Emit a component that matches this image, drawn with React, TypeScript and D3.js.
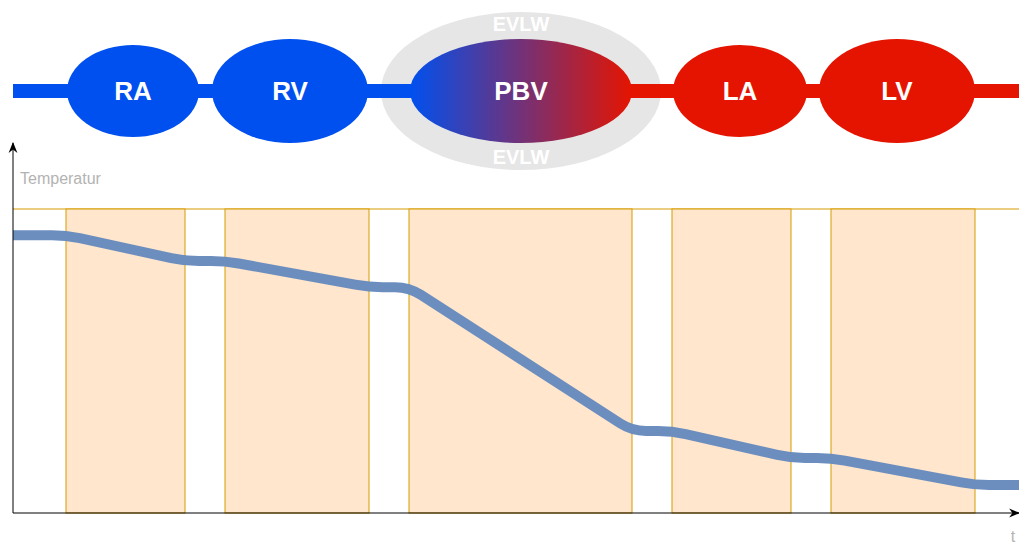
import React from "react";
import * as d3 from "d3";

// Compartments of the top diagram
const compartments = ["RA", "RV", "PBV", "LA", "LV"];
const compartmentCenters = [133, 290, 521, 740, 897];
const compartmentRx = [66, 78, 111, 67, 78];
const compartmentRy = [46, 52, 52, 46, 52];
const compartmentKind = ["venous", "venous", "mixed", "arterial", "arterial"];
const evlwLabel = "EVLW";

// Phases of the chart (time units)
const phaseStart = [53, 212, 396, 659, 818];
const phaseEnd = [172, 356, 619, 778, 962];

// Temperature curve (time, temperature)
const curveTime = [0, 53, 172, 212, 356, 396, 619, 659, 778, 818, 962, 1006];
const curveTemp = [91.4, 91.4, 82.9, 82.9, 74.3, 74.3, 27.0, 27.0, 18.1, 18.1, 9.2, 9.2];

const yLabel = "Temperatur";
const xLabel = "t";

function roundedPath(pts: [number, number][], r: number): string {
  const p = d3.path();
  p.moveTo(pts[0][0], pts[0][1]);
  for (let i = 1; i < pts.length - 1; i++) {
    const [x0, y0] = pts[i - 1];
    const [x1, y1] = pts[i];
    const [x2, y2] = pts[i + 1];
    const d1 = Math.hypot(x1 - x0, y1 - y0);
    const d2 = Math.hypot(x2 - x1, y2 - y1);
    const rr = Math.min(r, d1 / 2, d2 / 2);
    const ax = x1 - ((x1 - x0) / d1) * rr;
    const ay = y1 - ((y1 - y0) / d1) * rr;
    const bx = x1 + ((x2 - x1) / d2) * rr;
    const by = y1 + ((y2 - y1) / d2) * rr;
    p.lineTo(ax, ay);
    p.quadraticCurveTo(x1, y1, bx, by);
  }
  const last = pts[pts.length - 1];
  p.lineTo(last[0], last[1]);
  return p.toString();
}

export default function App() {
  const W = 1019;
  const H = 545;
  const x = d3.scaleLinear().domain([0, 1006]).range([13, 1019]);
  const y = d3.scaleLinear().domain([0, 100]).range([513, 209]);
  const pts: [number, number][] = curveTime.map((t, i) => [x(t), y(curveTemp[i])]);
  const line = roundedPath(pts, 14);
  const blue = "#0050ef";
  const red = "#e51400";
  const cy = 91;
  const font = "'Liberation Sans', Arial, Helvetica, sans-serif";
  const pbvL = compartmentCenters[2] - compartmentRx[2];
  const pbvR = compartmentCenters[2] + compartmentRx[2];

  return (
    <svg width={W} height={H} style={{ position: "absolute", left: 0, top: 0, background: "#fff" }}>
      <defs>
        <linearGradient id="pbv" x1="0" x2="1" y1="0" y2="0">
          <stop offset="0" stopColor={blue} />
          <stop offset="1" stopColor={red} />
        </linearGradient>
        <marker id="arr" viewBox="0 0 10 10" refX="9" refY="5" markerWidth="11" markerHeight="11" orient="auto" markerUnits="userSpaceOnUse">
          <path d="M0,1 L10,5 L0,9 L3,5 Z" fill="#000" />
        </marker>
      </defs>

      {/* EVLW halo */}
      <ellipse cx={compartmentCenters[2]} cy={cy} rx={140} ry={79} fill="#e6e6e6" />
      <text x={compartmentCenters[2]} y={31} textAnchor="middle" fontFamily={font} fontWeight="bold" fontSize={20} fill="#fff">{evlwLabel}</text>
      <text x={compartmentCenters[2]} y={164} textAnchor="middle" fontFamily={font} fontWeight="bold" fontSize={20} fill="#fff">{evlwLabel}</text>

      {/* vessel lines */}
      <line x1={13} x2={pbvL + 5} y1={cy} y2={cy} stroke={blue} strokeWidth={14} />
      <line x1={pbvR - 5} x2={W} y1={cy} y2={cy} stroke={red} strokeWidth={14} />

      {compartments.map((c, i) => (
        <g key={c}>
          <ellipse
            cx={compartmentCenters[i]}
            cy={cy}
            rx={compartmentRx[i]}
            ry={compartmentRy[i]}
            fill={compartmentKind[i] === "venous" ? blue : compartmentKind[i] === "arterial" ? red : "url(#pbv)"}
          />
          <text x={compartmentCenters[i]} y={cy + 9} textAnchor="middle" fontFamily={font} fontWeight="bold" fontSize={26} fill="#fff">{c}</text>
        </g>
      ))}

      {/* chart */}
      <line x1={13} x2={W} y1={y(100)} y2={y(100)} stroke="#d79b00" strokeWidth={1} />
      {phaseStart.map((s, i) => (
        <rect key={i} x={x(s)} y={y(100)} width={x(phaseEnd[i]) - x(s)} height={y(0) - y(100)} fill="#ffe6cc" stroke="#d79b00" strokeWidth={1} />
      ))}
      <path d={line} fill="none" stroke="#6c8ebf" strokeWidth={10} strokeLinejoin="round" />

      <line x1={13} x2={13} y1={513} y2={143} stroke="#000" strokeWidth={1} markerEnd="url(#arr)" />
      <line x1={13} x2={W} y1={513} y2={513} stroke="#000" strokeWidth={1} markerEnd="url(#arr)" />
      <text x={20} y={184} fontFamily={font} fontSize={16} fill="#b3b3b3">{yLabel}</text>
      <text x={1013} y={542} textAnchor="middle" fontFamily={font} fontSize={16} fill="#b3b3b3">{xLabel}</text>
    </svg>
  );
}
